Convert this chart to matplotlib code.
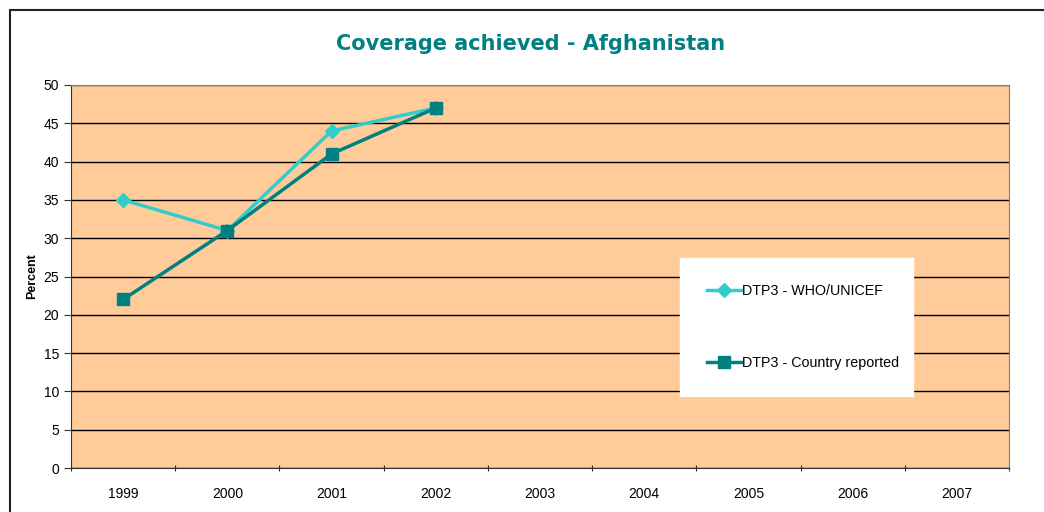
import matplotlib.pyplot as plt
from matplotlib.patches import Rectangle

years = ['1999', '2000', '2001', '2002', '2003', '2004', '2005', '2006', '2007']
who_unicef = [35, 31, 44, 47]
country_reported = [22, 31, 41, 47]

plt.rcParams['font.family'] = ['Liberation Sans', 'DejaVu Sans']

fig = plt.figure(figsize=(10.44, 5.12), dpi=100)
ax = fig.add_axes([71 / 1044, 1 - 468 / 512, 938 / 1044, 383 / 512])
ax.set_facecolor('#FFCC99')

x = list(range(len(years)))
ax.plot(x[:len(who_unicef)], who_unicef, color='#33CCCC', marker='D', markersize=7,
        linewidth=2.5, label='DTP3 - WHO/UNICEF', zorder=3)
ax.plot(x[:len(country_reported)], country_reported, color='#008080', marker='s', markersize=8,
        linewidth=2.5, label='DTP3 - Country reported', zorder=4)

ax.set_xlim(-0.5, len(years) - 0.5)
ax.set_ylim(0, 50)
ax.set_yticks(range(0, 51, 5))
ax.yaxis.grid(True, color='black', linewidth=1)
ax.set_axisbelow(True)

# category labels centred, ticks between categories
ax.set_xticks([i - 0.5 for i in range(len(years) + 1)])
ax.set_xticklabels([])
ax.set_xticks(x, minor=True)
ax.set_xticklabels(years, minor=True)
ax.tick_params(axis='x', which='minor', length=0, pad=14, labelsize=10)
ax.tick_params(axis='x', which='major', length=5, color='#333333', direction='inout')
ax.tick_params(axis='y', length=5, color='#333333', labelsize=10, direction='out')

for s in ['top', 'right']:
    ax.spines[s].set_color('#808080')
for s in ['left', 'bottom']:
    ax.spines[s].set_color('#333333')

ax.set_ylabel('Percent', fontsize=9, fontweight='bold', labelpad=4)
fig.text(531 / 1044, 1 - 44 / 512, 'Coverage achieved - Afghanistan', ha='center', va='center',
         fontsize=15, fontweight='bold', color='#008080', family='DejaVu Sans')

leg = ax.legend(loc='center left', bbox_to_anchor=(0.6417, 0.185, 0.2636, 0.366),
                mode='expand', fontsize=10.3, labelspacing=4.0, handlelength=2.4,
                handletextpad=0.05, fancybox=False, framealpha=1, borderpad=1.85)
leg.get_frame().set_edgecolor('white')
leg.get_frame().set_facecolor('white')

fig.add_artist(Rectangle((10 / 1044, -0.1), 1.1, 1.1 - 10 / 512,
                         transform=fig.transFigure, fill=False, edgecolor='#222222', linewidth=1.5))

fig.savefig('out.png', dpi=100)
